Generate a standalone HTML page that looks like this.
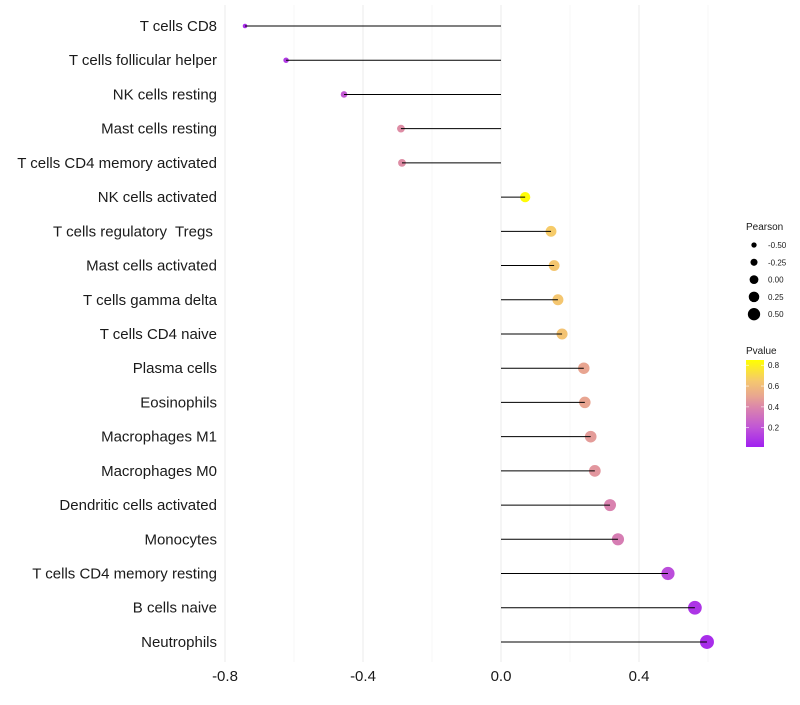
<!DOCTYPE html>
<html><head><meta charset="utf-8"><style>
body{margin:0;background:#fff;font-family:"Liberation Sans",sans-serif}
text{white-space:pre}
</style></head><body>
<svg id="chart" width="800" height="700" xmlns="http://www.w3.org/2000/svg" font-family="Liberation Sans, sans-serif"></svg>
<script>
const categories=["T cells CD8","T cells follicular helper","NK cells resting","Mast cells resting","T cells CD4 memory activated","NK cells activated","T cells regulatory  Tregs ","Mast cells activated","T cells gamma delta","T cells CD4 naive","Plasma cells","Eosinophils","Macrophages M1","Macrophages M0","Dendritic cells activated","Monocytes","T cells CD4 memory resting","B cells naive","Neutrophils"];
const pearson=[-0.742,-0.623,-0.455,-0.29,-0.287,0.07,0.145,0.154,0.165,0.177,0.24,0.243,0.26,0.272,0.316,0.339,0.484,0.562,0.597];
const pvalue=[0.05,0.1,0.22,0.42,0.42,0.84,0.66,0.64,0.64,0.63,0.5,0.5,0.47,0.45,0.38,0.36,0.17,0.08,0.05];
const xTicks=[-0.8,-0.4,0.0,0.4];
const xTickLabels=["-0.8","-0.4","0.0","0.4"];
const xMinor=[-0.6,-0.2,0.2,0.6];
const sizeLegend=[-0.5,-0.25,0,0.25,0.5];
const sizeLegendLabels=["-0.50","-0.25","0.00","0.25","0.50"];
const pTicks=[0.2,0.4,0.6,0.8];

const NS="http://www.w3.org/2000/svg";
const svg=document.getElementById('chart');
const x=v=>501+v*345;
const y=i=>26+i*34.22;
const r=v=>4.9+3.5*v;
const stops=[[0,[160,32,240]],[0.2,[192,85,215]],[0.4,[220,135,170]],[0.5,[232,165,145]],[0.65,[245,200,110]],[0.85,[255,255,0]]];
function color(p){
  if(p<=stops[0][0])return `rgb(${stops[0][1]})`;
  for(let k=1;k<stops.length;k++){if(p<=stops[k][0]){const a=stops[k-1],b=stops[k],t=(p-a[0])/(b[0]-a[0]);return `rgb(${a[1].map((c,j)=>Math.round(c+(b[1][j]-c)*t)).join(',')})`;}}
  return 'rgb(255,255,0)';
}
function mk(tag,attrs,parent){const e=document.createElementNS(NS,tag);for(const k in attrs)e.setAttribute(k,attrs[k]);(parent||svg).appendChild(e);return e;}

xMinor.forEach(v=>{const l=mk('line',{x1:x(v),x2:x(v),y1:5,y2:662,stroke:'#f2f2f2','stroke-width':0.6});

});
xTicks.forEach((v,i)=>{const l=mk('line',{x1:x(v),x2:x(v),y1:5,y2:662,stroke:'#ebebeb','stroke-width':1});


const t=mk('text',{x:x(v),y:681,'text-anchor':'middle','font-size':15,fill:'#1a1a1a'});t.textContent=xTickLabels[i];

});

categories.forEach((c,i)=>{
  const t=mk('text',{x:217,y:y(i)+5,'text-anchor':'end','font-size':15,fill:'#1a1a1a'});t.textContent=c;
  t.setAttribute('xml:space','preserve');
  
  
  const p=mk('circle',{cx:x(pearson[i]),cy:y(i),r:r(pearson[i]),fill:color(pvalue[i])});
  
  
  const l=mk('line',{x1:x(0),x2:x(pearson[i]),y1:y(i),y2:y(i),stroke:'#000','stroke-width':1});
  
  
});

const lt=mk('text',{x:746,y:230,'font-size':10,fill:'#1a1a1a'});lt.textContent='Pearson';


sizeLegend.forEach((v,i)=>{const cy=245+i*17.3;
  const c=mk('circle',{cx:754,cy:cy,r:r(v)-0.5,fill:'#000'});
  
  
  const t=mk('text',{x:768,y:cy+3,'font-size':8,fill:'#1a1a1a'});t.textContent=sizeLegendLabels[i];
  
  });

const pt=mk('text',{x:746,y:354,'font-size':10,fill:'#1a1a1a'});pt.textContent='Pvalue';


const defs=mk('defs',{});const g=mk('linearGradient',{id:'pg',x1:0,y1:1,x2:0,y2:0},defs);
const pMin=0.015,pMax=0.85;
stops.forEach(s=>{mk('stop',{offset:Math.max(0,(s[0]-pMin)/(pMax-pMin)),'stop-color':`rgb(${s[1]})`},g);});
const bar=mk('rect',{x:746,y:360,width:18,height:87,fill:'url(#pg)'});


const py=p=>447-(p-pMin)*(87/(pMax-pMin));
pTicks.forEach(p=>{
  mk('line',{x1:746,x2:749,y1:py(p),y2:py(p),stroke:'#fff','stroke-width':0.6});
  mk('line',{x1:761,x2:764,y1:py(p),y2:py(p),stroke:'#fff','stroke-width':0.6});
  const t=mk('text',{x:768,y:py(p)+3,'font-size':8,fill:'#1a1a1a'});t.textContent=p.toFixed(1);
  
  });
</script>
</body></html>
